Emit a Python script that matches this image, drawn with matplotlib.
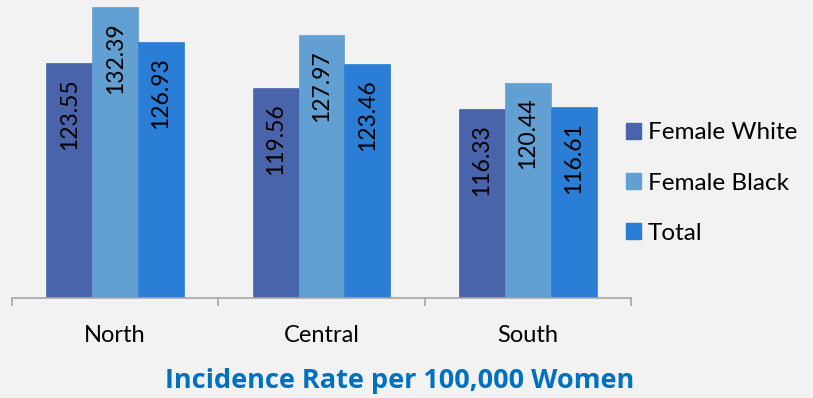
import matplotlib.pyplot as plt
import numpy as np
from matplotlib.patches import Patch

regions = ["North", "Central", "South"]
series = ["Female White", "Female Black", "Total"]
female_white = [123.55, 119.56, 116.33]
female_black = [132.39, 127.97, 120.44]
total = [126.93, 123.46, 116.61]
colors = ["#4A64AC", "#629FD3", "#2B7ED6"]

plt.rcParams['font.family'] = ['Lato', 'DejaVu Sans']

fig = plt.figure(figsize=(8.13, 3.98), dpi=100, facecolor="#F2F2F2")
ax = fig.add_axes([12/813, 100.5/398, 619/813, 297.5/398])
ax.set_facecolor("#F2F2F2")

x = np.arange(len(regions))
w = 0.222
for i, (vals, c) in enumerate(zip([female_white, female_black, total], colors)):
    bars = ax.bar(x + (i - 1) * w, vals, width=w, color=c, edgecolor=c, linewidth=0.5)
    for b, v in zip(bars, vals):
        ax.annotate(f"{v:.2f}", (b.get_x() + b.get_width() / 2, v),
                    xytext=(0, -11), textcoords="offset points",
                    rotation=90, ha="center", va="top", fontsize=16.5, color="black")

ax.set_ylim(86.5, 133.5)
ax.set_xlim(-0.5, 2.5)
ax.set_yticks([])
for s in ["top", "right", "left"]:
    ax.spines[s].set_visible(False)
ax.spines["bottom"].set_color("#A6A6A6")
ax.spines["bottom"].set_linewidth(1.2)

ax.set_xticks(x)
ax.set_xticklabels(regions, fontsize=17)
ax.tick_params(axis="x", which="major", length=0, pad=20)
ax.set_xticks([-0.5, 0.5, 1.5, 2.5], minor=True)
ax.tick_params(axis="x", which="minor", length=6, color="#A6A6A6", width=1.2)

handles = [Patch(facecolor=c, edgecolor=c) for c in colors]
fig.legend(handles, series, loc="center left", bbox_to_anchor=(626/813, 0.54),
           frameon=False, fontsize=17.5, handlelength=0.6, handleheight=0.6,
           handletextpad=0.3, labelspacing=1.2, borderpad=0, borderaxespad=0)

fig.text(400/813, 17/398, "Incidence Rate per 100,000 Women", ha="center", va="center",
         fontsize=19.5, fontweight="bold", color="#0070C0", family=["Open Sans", "DejaVu Sans"])

fig.savefig("out.png", dpi=100, facecolor=fig.get_facecolor())
